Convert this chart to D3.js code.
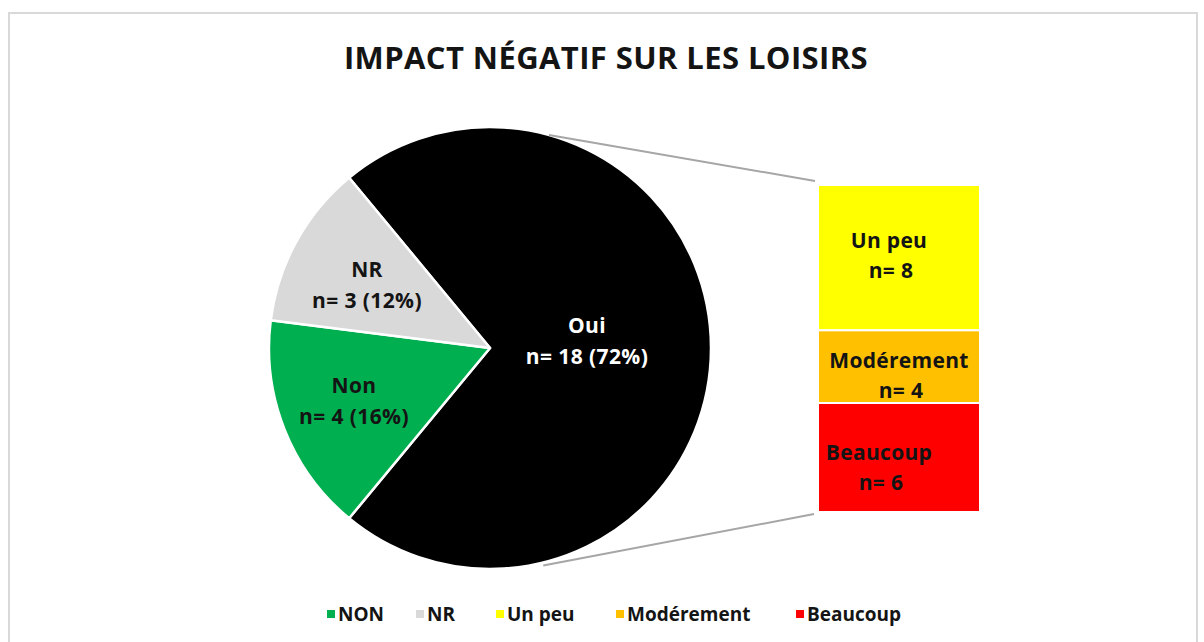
<!DOCTYPE html>
<html>
<head>
<meta charset="utf-8">
<script src="https://cdn.jsdelivr.net/npm/d3@7"></script>
<style>
  body { margin: 0; background: #fff; }
  text { font-family: "Open Sans", Lato, sans-serif; font-weight: bold; }
</style>
</head>
<body>
<script>
// pie part
const pieLabels = ['Oui', 'Non', 'NR']
const pieValues = [18, 4, 3]
const pieColors = ['#000000', '#00B050', '#D9D9D9']
// bar part (breakdown of "Oui")
const barLabels = ['Un peu', 'Modérement', 'Beaucoup']
const barValues = [8, 4, 6]
const barColors = ['#FFFF00', '#FFC000', '#FF0000']
// legend
const legendLabels = ['NON', 'NR', 'Un peu', 'Modérement', 'Beaucoup']
const legendColors = ['#00B050', '#D9D9D9', '#FFFF00', '#FFC000', '#FF0000']

const width = 1204, height = 642
const cx = 490, cy = 348, r = 221

const svg = d3.select('body').append('svg').attr('width', width).attr('height', height)

// chart frame
svg.append('rect').attr('x', 9).attr('y', 13).attr('width', 1188).attr('height', 660)
  .attr('fill', 'white').attr('stroke', '#d9d9d9').attr('stroke-width', 2)

svg.append('text').attr('x', 606).attr('y', 69).attr('text-anchor', 'middle')
  .attr('font-size', 31).attr('letter-spacing', 0.4).attr('fill', '#141414')
  .text('IMPACT NÉGATIF SUR LES LOISIRS')

const total = d3.sum(pieValues)
const ouiAngle = pieValues[0] / total * 2 * Math.PI
const start = Math.PI / 2 - ouiAngle / 2

const pie = d3.pie().sort(null).value(d => d)
  .startAngle(start).endAngle(start + 2 * Math.PI)
const arcs = pie(pieValues)
const arc = d3.arc().innerRadius(0).outerRadius(r)

const gPie = svg.append('g').attr('transform', `translate(${cx},${cy})`)
gPie.selectAll('path').data(arcs).enter().append('path')
  .attr('d', arc)
  .attr('fill', (d, i) => pieColors[i])
  .attr('stroke', 'white').attr('stroke-width', 2.5).attr('stroke-linejoin', 'round')

// label anchor (first baseline) relative to centre
const labelPos = [[97, -15], [-136, 45], [-123, -71]]
const pieText = gPie.selectAll('.pl').data(arcs).enter().append('text')
  .attr('class', 'pl')
  .attr('text-anchor', 'middle')
  .attr('font-size', 21).attr('letter-spacing', 0.4)
  .attr('fill', (d, i) => i === 0 ? 'white' : '#141414')
pieText.append('tspan').attr('x', (d, i) => labelPos[i][0]).attr('y', (d, i) => labelPos[i][1])
  .text((d, i) => pieLabels[i])
pieText.append('tspan').attr('x', (d, i) => labelPos[i][0]).attr('y', (d, i) => labelPos[i][1] + 31)
  .text((d, i) => `n= ${pieValues[i]} (${Math.round(pieValues[i] / total * 100)}%)`)

// stacked bar
const barX = 818, barW = 162
const y = d3.scaleLinear().domain([0, d3.sum(barValues)]).range([185, 512])
const cum = d3.cumsum(barValues)
const barData = barValues.map((v, i) => ({ v, i, y0: cum[i] - v, y1: cum[i] }))

const gBar = svg.append('g')
gBar.selectAll('rect').data(barData).enter().append('rect')
  .attr('x', barX).attr('width', barW)
  .attr('y', d => y(d.y0))
  .attr('height', d => y(d.y1) - y(d.y0))
  .attr('fill', d => barColors[d.i])
  .attr('stroke', 'white').attr('stroke-width', 2)

const barLabelX = [889, 899, 879]
const barLabelDy = [-10, 1, 2]
const barText = gBar.selectAll('text').data(barData).enter().append('text')
  .attr('text-anchor', 'middle').attr('font-size', 21).attr('letter-spacing', 0.3)
  .attr('fill', '#141414')
barText.append('tspan').attr('x', d => barLabelX[d.i])
  .attr('y', d => (y(d.y0) + y(d.y1)) / 2 + barLabelDy[d.i]).text(d => barLabels[d.i])
barText.append('tspan').attr('x', d => barLabelX[d.i] + 2)
  .attr('y', d => (y(d.y0) + y(d.y1)) / 2 + barLabelDy[d.i] + 30).text(d => `n= ${d.v}`)

// connector lines from pie edge to bar corners
const topA = 0.27, botA = Math.PI - 0.24
const conn = [
  [[cx + r * Math.sin(topA), cy - r * Math.cos(topA)], [barX - 3, y(0) - 4]],
  [[cx + (r + 3) * Math.sin(botA), cy - (r + 3) * Math.cos(botA)], [barX - 4, y(d3.sum(barValues)) + 2]]
]
svg.selectAll('.conn').data(conn).enter().append('line')
  .attr('class', 'conn')
  .attr('x1', d => d[0][0]).attr('y1', d => d[0][1])
  .attr('x2', d => d[1][0]).attr('y2', d => d[1][1])
  .attr('stroke', '#a6a6a6').attr('stroke-width', 2)

// legend
const legendX = [338, 427, 507, 627, 807]
const gLeg = svg.append('g')
const items = gLeg.selectAll('g').data(legendLabels).enter().append('g')
  .attr('transform', (d, i) => `translate(${legendX[i]},621)`)
items.append('rect').attr('x', -11).attr('y', -11).attr('width', 8).attr('height', 8)
  .attr('fill', (d, i) => legendColors[i])
items.append('text').attr('x', 0).attr('y', 0).attr('font-size', 19).attr('fill', '#141414')
  .text(d => d)
</script>
</body>
</html>
